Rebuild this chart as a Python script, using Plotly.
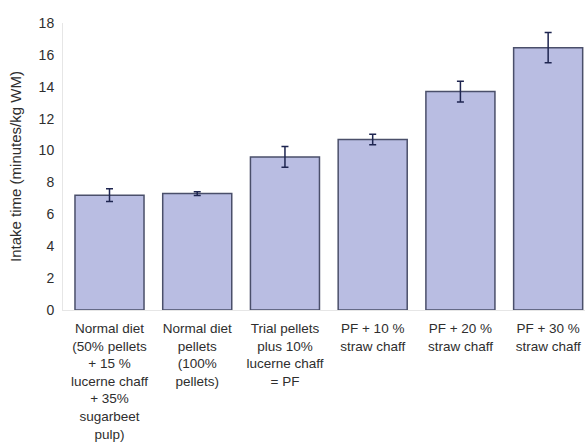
import plotly.graph_objects as go

categories = [
    "Normal diet<br>(50% pellets<br>+ 15 %<br>lucerne chaff<br>+ 35%<br>sugarbeet<br>pulp)",
    "Normal diet<br>pellets<br>(100%<br>pellets)",
    "Trial pellets<br>plus 10%<br>lucerne chaff<br>= PF",
    "PF + 10 %<br>straw chaff",
    "PF + 20 %<br>straw chaff",
    "PF + 30 %<br>straw chaff",
]
intake_time = [7.2, 7.3, 9.6, 10.7, 13.7, 16.45]
error = [0.4, 0.12, 0.65, 0.33, 0.65, 0.95]
y_ticks = [0, 2, 4, 6, 8, 10, 12, 14, 16, 18]

x_pos = list(range(len(categories)))

fig = go.Figure()
fig.add_trace(go.Bar(
    x=x_pos, y=intake_time,
    width=0.787,
    marker=dict(color="#b9bde2", line=dict(color="#4a4f6a", width=1.5)),
    error_y=dict(type="data", array=error, visible=True, color="#1e2550", thickness=1.5, width=3.5),
))

fig.update_layout(
    width=585, height=442,
    margin=dict(l=63, r=0, t=23, b=132),
    plot_bgcolor="white", paper_bgcolor="white",
    font=dict(family="Liberation Sans, Arial, sans-serif", size=13, color="#2e2e2e"),
    showlegend=False,
)
fig.update_yaxes(
    range=[0, 18], tickvals=y_ticks, showgrid=False, zeroline=False,
    showline=True, linecolor="#e6e6e6", linewidth=1,
    tickfont=dict(size=14, color="#2e2e2e"),
    ticks="outside", ticklen=5, tickcolor="rgba(0,0,0,0)",
    title=dict(text="Intake time (minutes/kg WM)", font=dict(size=15, color="#2e2e2e"), standoff=13),
)
fig.update_xaxes(
    range=[-0.53, 5.42], tickvals=x_pos, ticktext=categories, showgrid=False,
    showline=True, linecolor="#e6e6e6", linewidth=1,
    ticks="outside", ticklen=6, tickcolor="rgba(0,0,0,0)",
    tickfont=dict(size=13.5, color="#2e2e2e"), tickangle=0,
)

fig.write_html(
    "out.html",
    config={"displayModeBar": False},
    post_script="document.body.style.margin='0';document.body.style.overflow='hidden';",
)
